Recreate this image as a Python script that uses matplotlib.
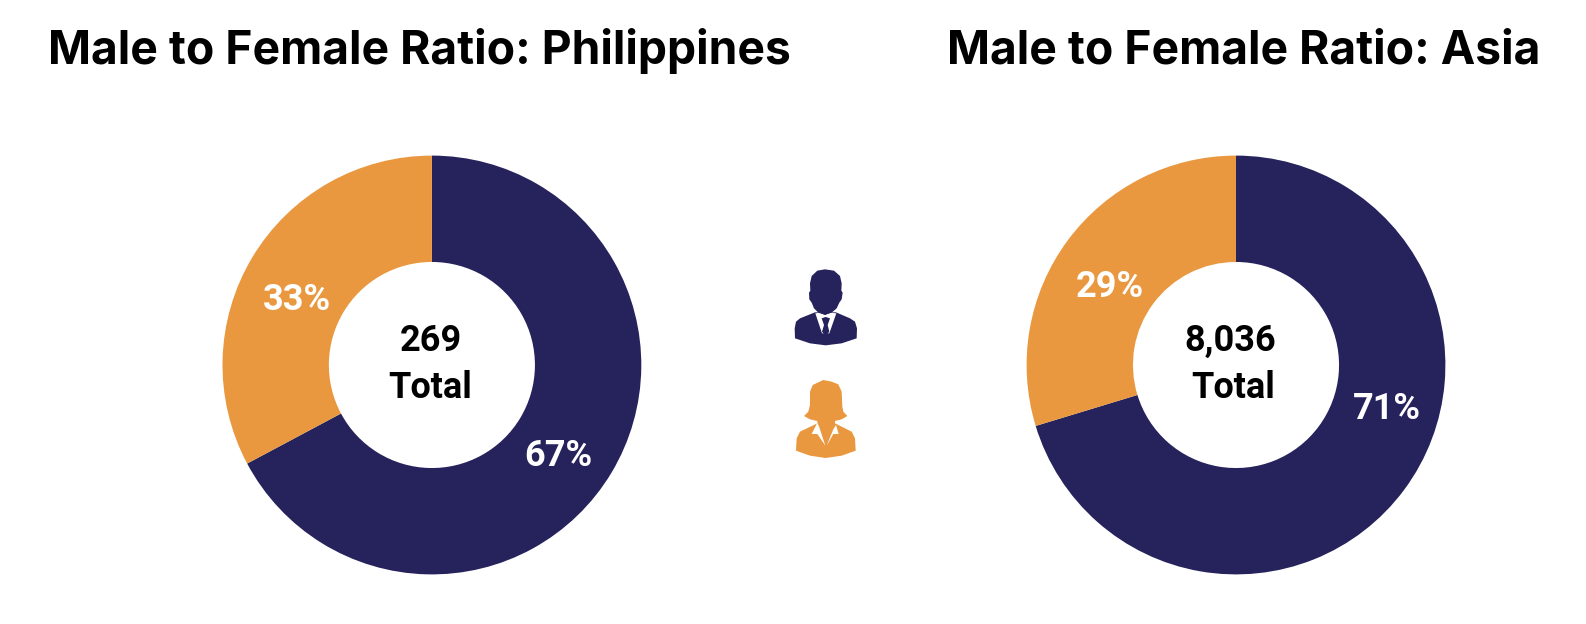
import matplotlib
matplotlib.use('Agg')
import matplotlib.pyplot as plt
from matplotlib.patches import Polygon

W, H = 1586, 624

# data
ph_values = [67.2, 32.8]
asia_values = [70.3, 29.7]
ph_labels = ['67%', '33%']
asia_labels = ['71%', '29%']
ph_total = '269'
asia_total = '8,036'
total_word = 'Total'
titles = ['Male to Female Ratio: Philippines', 'Male to Female Ratio: Asia']

navy = '#25225c'
orange = '#e9983f'
narrow = ['Roboto', 'DejaVu Sans']

plt.rcParams['font.family'] = ['Inter', 'DejaVu Sans']
fig = plt.figure(figsize=(W / 100, H / 100), dpi=100)


def donut(cx, cy, r, values, labels, total, label_pos, total_x):
    size = 2 * r + 4
    ax = fig.add_axes([(cx - size / 2) / W, 1 - (cy + size / 2) / H, size / W, size / H])
    ax.pie(values, colors=[navy, orange], startangle=90, counterclock=False,
           radius=r / (size / 2), wedgeprops=dict(width=r * 0.508 / (size / 2), linewidth=0))
    ax.set_xlim(-1, 1)
    ax.set_ylim(-1, 1)
    ax.set_aspect('equal')
    for lab, (px, py) in zip(labels, label_pos):
        fig.text(px / W, 1 - py / H, lab, color='white', fontsize=26, fontweight='bold',
                 ha='center', va='center', family=narrow)
    fig.text(total_x[0] / W, 1 - 341 / H, total, color='black', fontsize=26, fontweight='bold',
             ha='center', va='center', family=narrow)
    fig.text(total_x[1] / W, 1 - 388 / H, total_word, color='black', fontsize=26, fontweight='bold',
             ha='center', va='center', family=narrow)


donut(431.9, 365, 209.4, ph_values, ph_labels, ph_total, [(558, 456), (297, 300)], (431, 430))
donut(1236, 365, 209.4, asia_values, asia_labels, asia_total, [(1387, 409), (1110, 287)], (1230.5, 1233.5))

fig.text(48 / W, 1 - 51 / H, titles[0], fontsize=33.3, fontweight='bold', ha='left', va='center', color='black')
fig.text(1540 / W, 1 - 51 / H, titles[1], fontsize=33.3, fontweight='bold', ha='right', va='center', color='black')

# person icons, outlines traced in the 3x zoom crop at (760, 250)
ov = fig.add_axes([0, 0, 1, 1], zorder=5)
ov.set_xlim(0, W)
ov.set_ylim(H, 0)
ov.axis('off')


def shape(pts, c):
    ov.add_patch(Polygon([(760 + x / 3, 250 + y / 3) for x, y in pts], closed=True, facecolor=c, lw=0))


man_head = [(195, 58), (222, 62), (240, 78), (245, 100), (244, 122), (248, 128), (245, 148), (238, 158),
            (230, 175), (215, 188), (195, 194), (175, 188), (162, 175), (155, 158), (148, 148), (147, 128),
            (151, 122), (150, 100), (155, 78), (172, 62)]
man_body = [(165, 187), (120, 205), (108, 215), (104, 235), (105, 265), (150, 280), (197, 286), (245, 280),
            (290, 265), (291, 235), (285, 215), (270, 205), (228, 187)]
man_shirt = [(166, 190), (186, 250), (208, 250), (229, 190), (212, 188), (195, 195), (178, 188)]
man_tie = [(185, 205), (197, 201), (210, 205), (203, 225), (208, 245), (197, 258), (186, 245), (192, 225)]
woman_hair = [(190, 390), (215, 395), (235, 403), (245, 425), (247, 470), (250, 485), (262, 498), (245, 508),
              (225, 513), (172, 513), (150, 508), (132, 498), (145, 485), (150, 465), (150, 425), (158, 405)]
woman_body = [(172, 505), (172, 520), (120, 545), (110, 565), (108, 602), (150, 617), (197, 624), (245, 617),
              (287, 602), (285, 565), (275, 545), (225, 520), (225, 505)]
woman_collar_l = [(172, 518), (155, 552), (172, 552), (196, 587), (178, 532)]
woman_collar_r = [(228, 525), (236, 552), (220, 552), (200, 587), (220, 538)]

shape(man_body, navy)
shape(man_shirt, 'white')
shape(man_tie, navy)
shape(man_head, navy)
shape(woman_body, orange)
shape(woman_hair, orange)
shape(woman_collar_l, 'white')
shape(woman_collar_r, 'white')

fig.savefig('out.png', dpi=100)
